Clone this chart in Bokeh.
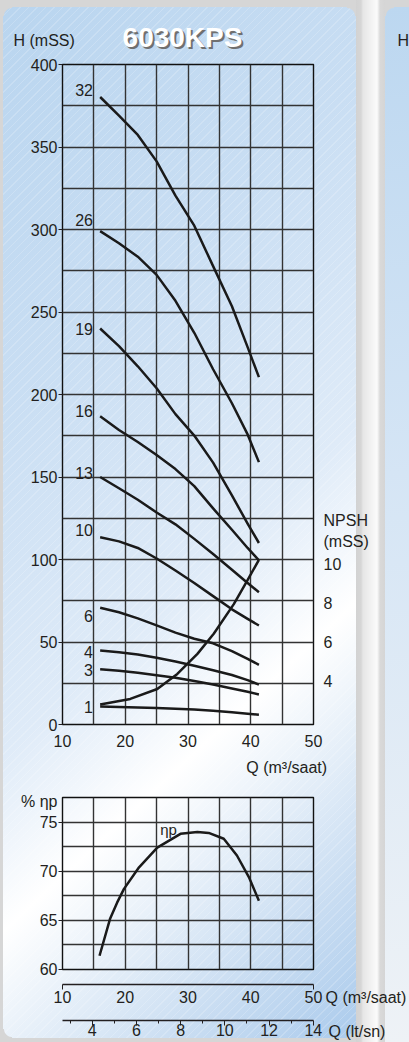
from bokeh.plotting import figure
from bokeh.models import Range1d, LinearAxis, FixedTicker, Label, AllLabels
from bokeh.layouts import column, row
from bokeh.embed import file_html
from bokeh.resources import INLINE

# ---------------- data ----------------
title_text = "6030KPS"
head_title = "H (mSS)"
npsh_title = ["NPSH", "(mSS)"]
q_title = "Q (m³/saat)"
lt_title = "Q (lt/sn)"
eff_title = "% ηp"
eff_curve_name = "ηp"

q_ticks = [10, 20, 30, 40, 50]
q_grid_lines = [10, 15, 20, 25, 30, 35, 40, 45, 50]
h_ticks = [0, 50, 100, 150, 200, 250, 300, 350, 400]
h_grid_lines = [0, 25, 50, 75, 100, 125, 150, 175, 200, 225, 250, 275, 300, 325, 350, 375, 400]
npsh_ticks = [4, 6, 8, 10]
eff_ticks = [60, 65, 70, 75]
eff_grid_lines = [60, 62.5, 65, 67.5, 70, 72.5, 75, 77.5]
lt_ticks = [4, 6, 8, 10, 12, 14]
lt_minor_ticks = [3, 5, 7, 9, 11, 13]

q_range = (10, 50)
h_range = (0, 400)
npsh_range = (1.8, 35.63)
eff_range = (60, 77.5)
lt_range = (2.66, 14.01)

# head curves (Q m3/h -> H mSS), one per stage count
q_head = [16, 19, 22, 25, 28, 31, 34, 37, 39.5, 41.3]
h_32 = [380.3, 369.0, 357.3, 341.3, 320.5, 302.3, 277.8, 253.5, 228.7, 210.5]
h_26 = [299.0, 291.7, 283.5, 272.5, 256.8, 237.4, 215.3, 194.7, 175.8, 159.0]
h_19 = [240.0, 229.3, 217.1, 203.8, 188.1, 175.1, 158.7, 138.8, 121.8, 110.0]
h_16 = [186.8, 178.5, 171.2, 163.3, 154.8, 144.5, 131.0, 118.0, 107.0, 99.5]
h_13 = [150.0, 143.2, 136.2, 128.5, 121.3, 112.5, 103.3, 93.8, 85.8, 80.2]
h_10 = [113.5, 111.0, 107.0, 100.6, 93.3, 85.8, 77.8, 69.8, 64.0, 60.0]
h_6 = [70.8, 68.0, 64.3, 60.1, 55.7, 52.0, 49.2, 44.5, 39.8, 36.2]
h_4 = [44.8, 43.8, 42.4, 40.4, 38.2, 35.6, 32.9, 30.0, 26.9, 24.2]
h_3 = [33.5, 32.6, 31.4, 29.9, 28.3, 26.3, 24.2, 21.8, 19.8, 18.2]
h_1 = [10.9, 10.6, 10.3, 10.0, 9.6, 9.1, 8.3, 7.4, 6.5, 5.9]
stage_labels = ["32", "26", "19", "16", "13", "10", "6", "4", "3", "1"]
stage_label_h = [384.8, 305.8, 239.4, 189.7, 152.4, 117.6, 65.5, 44.2, 33.0, 10.6]

# NPSH curve (Q m3/h -> NPSH mSS)
q_npsh = [16, 20.8, 25.1, 28.3, 31.5, 34.1, 37.3, 39.4, 41.3]
npsh = [2.82, 3.11, 3.62, 4.39, 5.42, 6.45, 7.97, 9.15, 10.24]

# efficiency curve (Q m3/h -> %)
q_eff = [15.9, 17.6, 18.7, 19.8, 22.2, 25.1, 28.8, 31.5, 33.3, 35.7, 37.8, 39.7, 41.3]
eff = [61.4, 65.2, 66.8, 68.2, 70.4, 72.4, 73.8, 74.0, 73.9, 73.3, 71.6, 69.4, 67.0]

head_curves = [h_32, h_26, h_19, h_16, h_13, h_10, h_6, h_4, h_3, h_1]

# where the axis titles sit (in the axis' own units)
npsh_title_at = [12.26, 11.2]
q_title_at = 45.73
eff_title_at = 77.14

# ---------------- styling ----------------
FONT = "Liberation Sans"
INK = "#231f20"
CURVE = "#1a1a1a"
GRID = "#333333"
W = 409
LEFT = 62
FRAME_W = 251
HDR_H = 55


def add_label(fig, x, y, text, size=16, align="left", baseline="middle",
              color=INK, font=FONT, style="normal"):
    fig.add_layout(Label(x=x, y=y, text=text, text_font=font,
                         text_font_size=f"{size}px", text_align=align,
                         text_baseline=baseline, text_color=color,
                         text_font_style=style))


def style_axis(ax, size=16):
    ax.axis_line_color = None
    ax.major_label_text_font = FONT
    ax.major_label_text_font_size = f"{size}px"
    ax.major_label_text_color = INK
    ax.major_tick_line_color = INK
    ax.minor_tick_line_color = INK
    ax.major_tick_in = 0
    ax.minor_tick_in = 0
    ax.minor_tick_out = 0
    ax.major_label_policy = AllLabels()


def chart_fig(width, height, x_range, y_range, top, bottom, **kw):
    return figure(width=width, height=height, x_range=Range1d(*x_range),
                  y_range=Range1d(*y_range), output_backend="svg",
                  toolbar_location=None, min_border_left=LEFT,
                  min_border_right=width - LEFT - FRAME_W, min_border_top=top,
                  min_border_bottom=bottom, background_fill_alpha=0,
                  border_fill_alpha=0, **kw)


def strip_fig(width, height, x_range, y_range):
    f = figure(width=width, height=height, x_range=Range1d(*x_range),
               y_range=Range1d(*y_range), output_backend="svg",
               toolbar_location=None, min_border=0, min_border_left=0,
               min_border_right=0, min_border_top=0, min_border_bottom=0,
               x_axis_location=None, y_axis_location=None,
               outline_line_color=None, background_fill_alpha=0,
               border_fill_alpha=0)
    f.grid.visible = False
    return f


def style_grid(fig):
    for g in (fig.xgrid, fig.ygrid):
        g.grid_line_color = GRID
        g.grid_line_width = 1.4


# ---------------- header strip (page pixels) ----------------
hdr = strip_fig(W, HDR_H, (0, W), (HDR_H, 0))
add_label(hdr, 13, 39.5, head_title)
add_label(hdr, 397, 39.5, head_title[0])
add_label(hdr, 184, 38.8, title_text, size=28, align="center", color="#707070",
          style="bold")
add_label(hdr, 182, 37, title_text, size=28, align="center", color="#ffffff",
          style="bold")

# ---------------- top chart: head + NPSH ----------------
p = chart_fig(W, 729, q_range, h_range, 64 - HDR_H, 60, outline_line_color="#111111")
p.outline_line_width = 1.4

p.xaxis.ticker = FixedTicker(ticks=q_ticks)
style_axis(p.xaxis[0])
p.xaxis.major_tick_out = 0
p.xaxis.major_label_standoff = 10

q_axis_title = LinearAxis(ticker=FixedTicker(ticks=[q_title_at]),
                          major_label_overrides={q_title_at: q_title})
style_axis(q_axis_title)
q_axis_title.major_tick_out = 0
q_axis_title.major_label_standoff = 9
p.add_layout(q_axis_title, "below")

p.yaxis.ticker = FixedTicker(ticks=h_ticks)
style_axis(p.yaxis[0])
p.yaxis.major_tick_out = 4
p.yaxis.major_label_standoff = 1

p.xgrid.ticker = FixedTicker(ticks=q_grid_lines)
p.ygrid.ticker = FixedTicker(ticks=h_grid_lines)
style_grid(p)

p.extra_y_ranges = {"npsh": Range1d(*npsh_range)}
ax_npsh = LinearAxis(y_range_name="npsh",
                     ticker=FixedTicker(ticks=npsh_ticks + npsh_title_at),
                     major_label_overrides=dict(zip(npsh_title_at, npsh_title)))
style_axis(ax_npsh)
ax_npsh.major_tick_out = 0
ax_npsh.major_label_standoff = 10
p.add_layout(ax_npsh, "right")

for h in head_curves:
    p.line(q_head, h, line_width=2.5, line_color=CURVE, line_join="round")
p.line(q_npsh, npsh, y_range_name="npsh", line_width=2.5,
       line_color=CURVE, line_join="round")

for txt, hy in zip(stage_labels, stage_label_h):
    add_label(p, 14.85, hy, txt, align="right")

# ---------------- bottom chart: efficiency ----------------
p2 = chart_fig(W, 197, q_range, eff_range, 13, 12, outline_line_color="#111111",
               x_axis_location=None)
p2.outline_line_width = 1.4
p2.yaxis.ticker = FixedTicker(ticks=eff_ticks + [eff_title_at], minor_ticks=eff_ticks)
p2.yaxis.major_label_overrides = {eff_title_at: eff_title}
style_axis(p2.yaxis[0])
p2.yaxis.major_tick_out = 0
p2.yaxis.minor_tick_out = 4
p2.yaxis.major_label_standoff = 1
p2.xgrid.ticker = FixedTicker(ticks=q_grid_lines)
p2.ygrid.ticker = FixedTicker(ticks=eff_grid_lines)
style_grid(p2)
p2.line(q_eff, eff, line_width=2.5, line_color=CURVE, line_join="round")
add_label(p2, 26.9, 74.2, eff_curve_name, size=15, align="center")

# ---------------- Q (m3/saat) axis ----------------
AXW = 324
p3 = chart_fig(AXW, 37, q_range, (0, 1), 2, 34, outline_line_color=None,
               y_axis_location=None)
p3.grid.visible = False
p3.xaxis.ticker = FixedTicker(ticks=q_ticks, minor_ticks=[q_ticks[0], q_ticks[-1]])
style_axis(p3.xaxis[0])
p3.xaxis.axis_line_color = INK
p3.xaxis.axis_line_width = 1.3
p3.xaxis.major_tick_out = 0
p3.xaxis.minor_tick_out = 5
p3.xaxis.major_label_standoff = 1

# ---------------- Q (lt/sn) axis ----------------
p4 = chart_fig(AXW, 24, lt_range, (0, 1), 1, 22, outline_line_color=None,
               y_axis_location=None)
p4.grid.visible = False
p4.xaxis.ticker = FixedTicker(ticks=lt_ticks, minor_ticks=lt_minor_ticks)
style_axis(p4.xaxis[0])
p4.xaxis.axis_line_color = INK
p4.xaxis.axis_line_width = 1.3
p4.xaxis.major_tick_out = 5
p4.xaxis.minor_tick_out = 3
p4.xaxis.major_label_standoff = -2

# axis titles to the right of the two Q axes (page pixels)
side = strip_fig(W - AXW, 61, (AXW, W), (1042, 981))
add_label(side, 325, 997, q_title)
add_label(side, 328, 1031.3, lt_title)

# ---------------- page background ----------------
GRAY = "#d6d6d6"
mask = "radial-gradient(circle at {}, rgba(214,214,214,0) 7.5px, " + GRAY + " 8.5px) {} / 9px 9px no-repeat"
bg_layers = [
    mask.format("100% 100%", "3px 7px"),
    mask.format("0% 100%", "347px 7px"),
    mask.format("100% 0%", "3px 1029px"),
    mask.format("0% 0%", "347px 1029px"),
    mask.format("100% 100%", "385px 7px"),
    "repeating-linear-gradient(135deg, rgba(255,255,255,0.18) 0px, rgba(255,255,255,0.18) 1px,"
    " rgba(255,255,255,0) 1px, rgba(255,255,255,0) 6px) 3px 7px / 353px 1031px no-repeat",
    "linear-gradient(137deg, #b9d5ef 0%, #c9def3 30%, #dfebf8 55%, #ffffff 68%,"
    " #eff5fb 74%, #c9ddf2 88%, #abcbec 100%) 3px 7px / 353px 1031px no-repeat",
    "linear-gradient(90deg, #d2d2d2 0px, #d6d6d6 5px, #e6e6e6 7px, #fbfbfb 21px,"
    " #d9d9d9 24px, #d5d5d5 29px) 356px 0px / 29px 1042px no-repeat",
    "linear-gradient(175deg, #bcd7f0 0%, #d5e5f5 45%, #eef2f6 100%) 385px 7px / 24px 1035px no-repeat",
    GRAY,
]

layout = column(row(hdr, width=W, height=HDR_H), p, p2, row(column(p3, p4), side),
                width=W, height=1042,
                styles={"background": ", ".join(bg_layers)})

open("out.html", "w").write(file_html(layout, INLINE))
